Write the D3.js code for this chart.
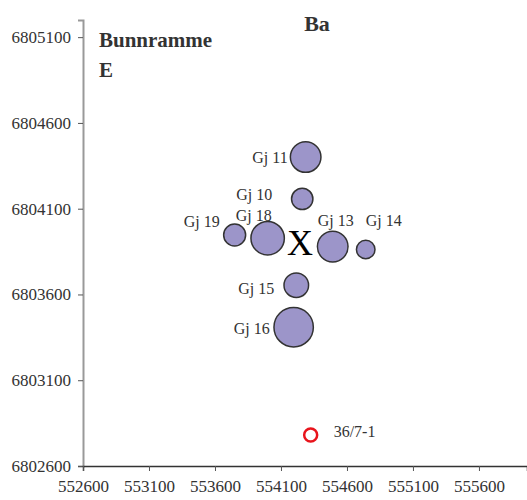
<!DOCTYPE html>
<html>
<head>
<meta charset="utf-8">
<script src="https://cdn.jsdelivr.net/npm/d3@7"></script>
<style>
  body { margin: 0; background: #fff; }
</style>
</head>
<body>
<div id="chart"></div>
<script>
'use strict';

const FONT = '"Liberation Serif", "DejaVu Serif", "Times New Roman", serif'

// wells: name, easting, northing, Ba value (bubble size)
const wellNames = ['Gj 11', 'Gj 10', 'Gj 19', 'Gj 18', 'Gj 13', 'Gj 14', 'Gj 15', 'Gj 16']
const wellX = [554287, 554261, 553749, 553999, 554492, 554742, 554216, 554196]
const wellY = [6804401, 6804157, 6803947, 6803928, 6803879, 6803862, 6803654, 6803409]
const wellBa = [234, 114, 121, 279, 234, 86, 151, 388]

// label anchor offsets (pixels) relative to bubble centre
const labelDx = [-18, -30, -15, -32, -15, 0, -58, -60]
const labelDy = [0, -5, -14, -23, -26, -29, 3, 1]
const labelAnchor = ['end', 'end', 'end', 'start', 'start', 'start', 'start', 'start']

// centre mark and reference well
const centreX = [554244]
const centreY = [6803901]
const refWell = { name: '36/7-1', x: 554325, y: 6802781 }

const xTicks = [552600, 553100, 553600, 554100, 554600, 555100, 555600]
const yTicks = [6802600, 6803100, 6803600, 6804100, 6804600, 6805100]

const dimensions = {
  width: 527,
  height: 500,
  margin: { top: 20, right: 0, bottom: 34, left: 83 }
}

const svg = d3.select('#chart')
  .append('svg')
  .attr('width', dimensions.width)
  .attr('height', dimensions.height)
  .style('font-family', FONT)

const xScale = d3.scaleLinear()
  .domain([552600, 555964])
  .range([dimensions.margin.left, dimensions.width - dimensions.margin.right])

const yScale = d3.scaleLinear()
  .domain([6802600, 6805200])
  .range([dimensions.height - dimensions.margin.bottom, dimensions.margin.top])

const rScale = d3.scaleSqrt()
  .domain([0, 400])
  .range([0, 20])

// x axis
const xAxisGroup = svg.append('g')
  .attr('transform', `translate(0, ${yScale(6802600)})`)
  .call(d3.axisBottom(xScale).tickValues(xTicks).tickFormat(d3.format('d')).tickSizeOuter(0).tickSize(5).tickPadding(9))
xAxisGroup.attr('font-family', null).attr('font-size', null)
xAxisGroup.select('.domain').attr('stroke', '#333').attr('stroke-width', 1.5)
xAxisGroup.selectAll('.tick line').attr('stroke', '#555')
xAxisGroup.selectAll('text')
  .style('font-family', FONT)
  .style('font-size', '17px')
  .attr('fill', '#333')

// y axis
const yAxisGroup = svg.append('g')
  .attr('transform', `translate(${dimensions.margin.left}, 0)`)
  .call(d3.axisLeft(yScale).tickValues(yTicks).tickFormat(d3.format('d')).tickSizeOuter(0).tickSize(5).tickPadding(7))
yAxisGroup.attr('font-family', null).attr('font-size', null)
yAxisGroup.select('.domain').attr('stroke', '#999').attr('stroke-width', 2)
yAxisGroup.selectAll('.tick line').attr('stroke', '#555')
yAxisGroup.selectAll('text')
  .style('font-family', FONT)
  .style('font-size', '17px')
  .attr('fill', '#333')
// keep x axis line on top of the y axis corner
xAxisGroup.raise()

// titles
svg.append('text')
  .attr('x', 317)
  .attr('y', 31)
  .attr('text-anchor', 'middle')
  .style('font-family', FONT)
  .style('font-size', '22px')
  .style('font-weight', 'bold')
  .attr('fill', '#333')
  .text('Ba')

svg.append('text')
  .attr('x', 99)
  .attr('y', 47)
  .style('font-family', FONT)
  .style('font-size', '21px')
  .style('font-weight', 'bold')
  .attr('fill', '#333')
  .text('Bunnramme')

svg.append('text')
  .attr('x', 99)
  .attr('y', 77)
  .style('font-family', FONT)
  .style('font-size', '21px')
  .style('font-weight', 'bold')
  .attr('fill', '#333')
  .text('E')

// bubbles
const wells = wellNames.map((name, i) => ({
  name: name, x: wellX[i], y: wellY[i], ba: wellBa[i],
  dx: labelDx[i], dy: labelDy[i], anchor: labelAnchor[i]
}))

svg.append('g')
  .selectAll('circle')
  .data(wells)
  .join('circle')
  .attr('cx', d => xScale(d.x))
  .attr('cy', d => yScale(d.y))
  .attr('r', d => rScale(d.ba))
  .attr('fill', '#9c95c9')
  .attr('stroke', '#333')
  .attr('stroke-width', 1.5)

svg.append('g')
  .selectAll('text')
  .data(wells)
  .join('text')
  .attr('x', d => xScale(d.x) + d.dx)
  .attr('y', d => yScale(d.y) + d.dy)
  .attr('dy', '0.35em')
  .attr('text-anchor', d => d.anchor)
  .style('font-family', FONT)
  .style('font-size', '16px')
  .attr('fill', '#333')
  .text(d => d.name)

// centre X
svg.append('text')
  .attr('x', xScale(centreX[0]))
  .attr('y', yScale(centreY[0]))
  .attr('dy', '0.35em')
  .attr('text-anchor', 'middle')
  .style('font-family', FONT)
  .style('font-size', '36px')
  .attr('fill', '#000')
  .text('X')

// reference well
svg.append('circle')
  .attr('cx', xScale(refWell.x))
  .attr('cy', yScale(refWell.y))
  .attr('r', 6.5)
  .attr('fill', 'none')
  .attr('stroke', '#e8141c')
  .attr('stroke-width', 2.5)

svg.append('text')
  .attr('x', xScale(refWell.x) + 23)
  .attr('y', yScale(refWell.y) - 4)
  .attr('dy', '0.35em')
  .style('font-family', FONT)
  .style('font-size', '16px')
  .attr('fill', '#333')
  .text(refWell.name)
</script>
</body>
</html>
